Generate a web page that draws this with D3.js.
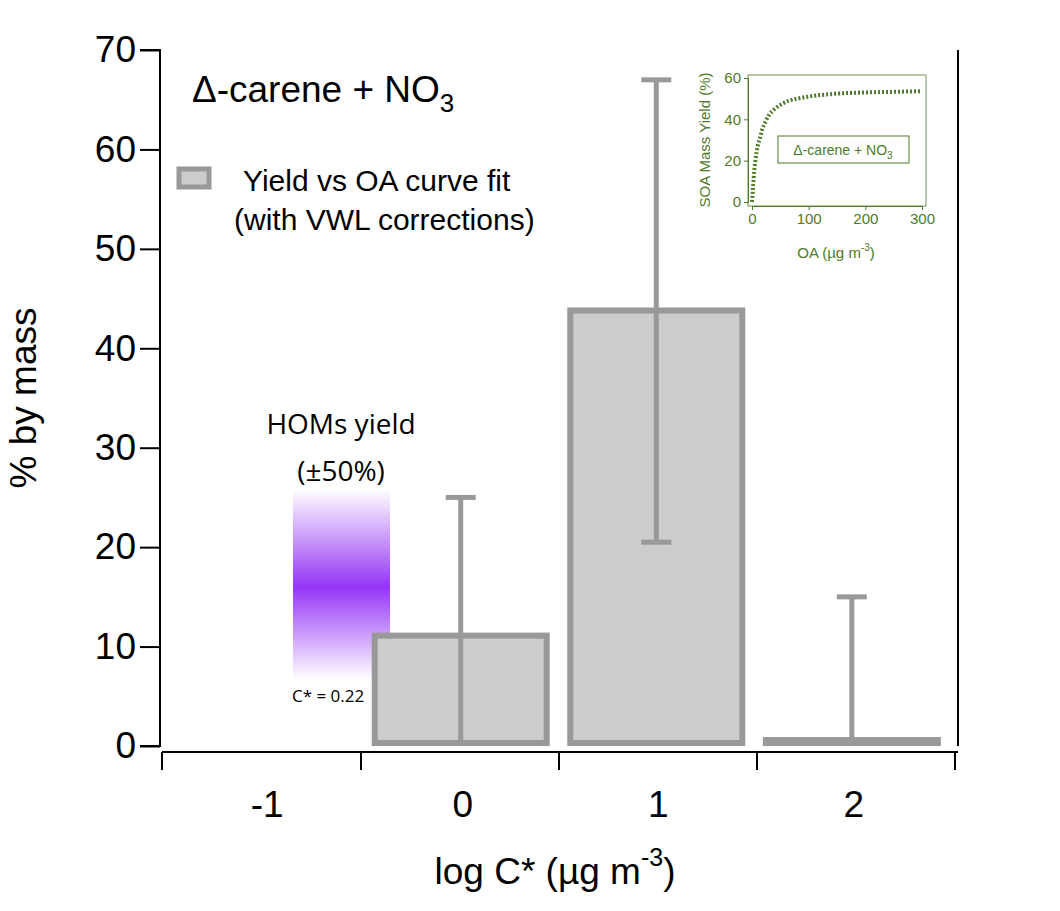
<!DOCTYPE html>
<html><head><meta charset="utf-8">
<script src="https://cdn.jsdelivr.net/npm/d3@7"></script>
<style>body{margin:0;background:#fff}</style></head>
<body><script>
const categories = ["-1", "0", "1", "2"];
const barValues = [null, 10.8, 43.5, 0.3];
const errLow = [null, 0, 20.5, 0];
const errHigh = [null, 25, 67, 15];
const yTicks = [0, 10, 20, 30, 40, 50, 60, 70];
const insetOA = [0, 2, 4, 6, 8, 10, 14, 18, 24, 30, 40, 50, 65, 80, 100, 130, 160, 200, 250, 300];
const insetYield = [0, 8, 15, 20, 24, 27, 31, 35, 39, 42, 45, 47, 49, 50, 51, 52, 52.6, 53, 53.3, 53.6];
const homsYield = 16, homsRange = [7.5, 25];

const W = 1060, H = 911;
const svg = d3.select("body").append("svg").attr("width", W).attr("height", H)
  .style("font-family", "Arial, 'Liberation Sans', sans-serif");

const x = d3.scaleBand().domain(categories).range([162, 955]).padding(0.055);
const y = d3.scaleLinear().domain([0, 70]).range([746, 50]);
const grey = "#999", fill = "#cccccc";

// purple HOMs gradient
const grad = svg.append("defs").append("linearGradient").attr("id", "hg")
  .attr("x1", 0).attr("x2", 0).attr("y1", 0).attr("y2", 1);
grad.append("stop").attr("offset", "0%").attr("stop-color", "#fff");
grad.append("stop").attr("offset", ((y(homsRange[1]) - y(homsYield)) / (y(homsRange[1]) - y(homsRange[0])) * 100 - 0.1) + "%").attr("stop-color", "#9535f5");
grad.append("stop").attr("offset", "100%").attr("stop-color", "#fff");
svg.append("rect").attr("x", 293).attr("width", 97)
  .attr("y", y(homsRange[1]) - 8).attr("height", y(homsRange[0]) - y(homsRange[1]) + 16)
  .attr("fill", "url(#hg)");

// bars
const bw = 172;
svg.append("g").selectAll("rect").data(categories.map((c, i) => ({c, v: barValues[i]})).filter(d => d.v != null))
  .join("rect")
  .attr("x", d => x(d.c) + x.bandwidth() / 2 - bw / 2)
  .attr("width", bw)
  .attr("y", d => y(d.v) - 3)
  .attr("height", d => y(0) - y(d.v))
  .attr("fill", fill).attr("stroke", grey).attr("stroke-width", 6);

// error bars
const eb = svg.append("g").attr("stroke", grey).attr("stroke-width", 5);
categories.forEach((c, i) => {
  if (errHigh[i] == null) return;
  const cx = x(c) + x.bandwidth() / 2;
  eb.append("line").attr("x1", cx).attr("x2", cx).attr("y1", y(errLow[i])).attr("y2", y(errHigh[i]));
  eb.append("line").attr("x1", cx - 15).attr("x2", cx + 15).attr("y1", y(errHigh[i])).attr("y2", y(errHigh[i]));
  if (errLow[i] > 0) eb.append("line").attr("x1", cx - 15).attr("x2", cx + 15).attr("y1", y(errLow[i])).attr("y2", y(errLow[i]));
});

// y axis
const ya = svg.append("g").attr("transform", "translate(160,0)")
  .call(d3.axisLeft(y).tickValues(yTicks).tickSize(20).tickPadding(4));
ya.select(".domain").attr("stroke-width", 2);
ya.selectAll(".tick line").attr("stroke-width", 2);
ya.selectAll(".tick text").attr("font-size", 37).attr("fill", "#000");
ya.selectAll(".domain").attr("d", `M-20,${y(70)}H0V${y(0)}H-20`);
svg.append("line").attr("x1", 958).attr("x2", 958).attr("y1", 50).attr("y2", 746).attr("stroke", "#000").attr("stroke-width", 2);

// x axis (offset, ticks at bin edges)
const xg = svg.append("g").attr("stroke", "#000").attr("stroke-width", 2);
xg.append("line").attr("x1", 162).attr("x2", 958).attr("y1", 752).attr("y2", 752);
[162, 361, 559, 757, 955].forEach(e => xg.append("line").attr("x1", e).attr("x2", e).attr("y1", 752).attr("y2", 770));
svg.append("g").selectAll("text").data(categories).join("text")
  .attr("x", d => x(d) + x.bandwidth() / 2 + 2).attr("y", 817).attr("text-anchor", "middle")
  .attr("font-size", 37).text(d => d);

// axis titles
svg.append("text").attr("x", 555).attr("y", 884).attr("text-anchor", "middle").attr("font-size", 37)
  .html('log C* (µg m<tspan dy="-18" font-size="25">-3</tspan><tspan dy="18">)</tspan>');
svg.append("text").attr("transform", "translate(36,398) rotate(-90)").attr("text-anchor", "middle")
  .attr("font-size", 37).text("% by mass");

// title
svg.append("text").attr("x", 192).attr("y", 102).attr("font-size", 37)
  .html('Δ-carene + NO<tspan dy="10" font-size="26">3</tspan>');

// legend
svg.append("rect").attr("x", 179).attr("y", 169).attr("width", 30).attr("height", 18)
  .attr("fill", fill).attr("stroke", grey).attr("stroke-width", 5);
svg.append("text").attr("x", 243).attr("y", 191).attr("font-size", 30).text("Yield vs OA curve fit");
svg.append("text").attr("x", 234).attr("y", 230).attr("font-size", 30).text("(with VWL corrections)");

// HOMs labels
svg.append("text").attr("x", 341).attr("y", 434).attr("text-anchor", "middle").attr("font-size", 28)
  .style("font-family", "'Open Sans', sans-serif").text("HOMs yield");
svg.append("text").attr("x", 341).attr("y", 481).attr("text-anchor", "middle").attr("font-size", 28)
  .style("font-family", "'Open Sans', sans-serif").text("(±50%)");
svg.append("text").attr("x", 292).attr("y", 702).attr("font-size", 17)
  .style("font-family", "'Open Sans', sans-serif").text("C* = 0.22");

// inset
const green = "#4e7a2a";
const ix = d3.scaleLinear().domain([0, 300]).range([752, 922]);
const iy = d3.scaleLinear().domain([0, 60]).range([202, 78]);
const ig = svg.append("g").attr("fill", green).attr("font-size", 15);
const iax = ig.append("g").attr("transform", "translate(0,206)")
  .call(d3.axisBottom(ix).tickValues([0, 100, 200, 300]).tickSize(4));
const iay = ig.append("g").attr("transform", "translate(748,0)")
  .call(d3.axisLeft(iy).tickValues([0, 20, 40, 60]).tickSize(4));
[iax, iay].forEach(a => {
  a.selectAll("line,path").attr("stroke", green);
  a.selectAll("text").attr("fill", green).attr("font-size", 15);
});
ig.append("rect").attr("x", 748).attr("y", 75).attr("width", 178).attr("height", 131)
  .attr("fill", "none").attr("stroke", green).attr("stroke-width", 0.8);
ig.append("path").datum(insetOA.map((o, i) => [o, insetYield[i]]))
  .attr("d", d3.line().curve(d3.curveMonotoneX).x(d => ix(d[0])).y(d => iy(d[1])))
  .attr("fill", "none").attr("stroke", green).attr("stroke-width", 4).attr("stroke-dasharray", "2,2");
ig.append("rect").attr("x", 778).attr("y", 136).attr("width", 131).attr("height", 27)
  .attr("fill", "#fff").attr("stroke", green);
ig.append("text").attr("x", 843).attr("y", 155).attr("text-anchor", "middle").attr("font-size", 14)
  .html('Δ-carene + NO<tspan dy="4" font-size="10">3</tspan>');
ig.append("text").attr("x", 836).attr("y", 258).attr("text-anchor", "middle")
  .html('OA (µg m<tspan dy="-7" font-size="10">-3</tspan><tspan dy="7">)</tspan>');
ig.append("text").attr("transform", "translate(710,140) rotate(-90)").attr("text-anchor", "middle")
  .text("SOA Mass Yield (%)");
</script></body></html>
